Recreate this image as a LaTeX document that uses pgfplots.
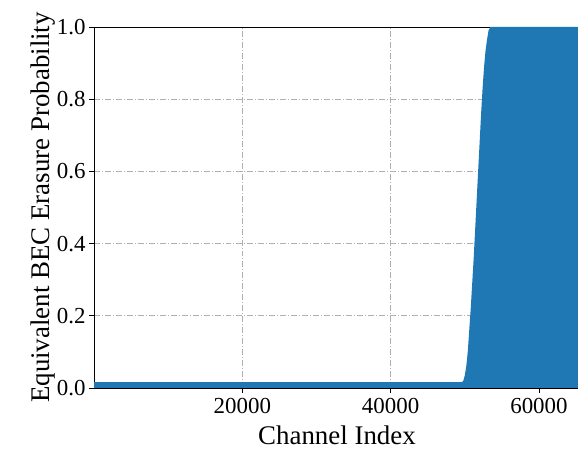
\documentclass[border=0pt]{standalone}
\usepackage{fontspec}
\setmainfont{Liberation Serif}
\usepackage{pgfplots}
\pgfplotsset{compat=1.18}
\definecolor{mplblue}{HTML}{1F77B4}
\definecolor{gridgray}{HTML}{B0B0B0}
\begin{document}
\begin{tikzpicture}
\useasboundingbox (-94bp,-61bp) rectangle (484bp,388bp);
\begin{axis}[
  at={(0,0)}, anchor=south west,
  scale only axis,
  width=486bp, height=361bp,
  xmin=0, xmax=65536, ymin=0, ymax=1,
  xtick={20000,40000,60000},
  ytick={0,0.2,0.4,0.6,0.8,1.0},
  scaled x ticks=false,
  xticklabel style={/pgf/number format/fixed, /pgf/number format/1000 sep={}, yshift=-2bp},
  yticklabel style={/pgf/number format/fixed, /pgf/number format/fixed zerofill, /pgf/number format/precision=1},
  /pgf/number format/assume math mode=true,
  tick align=outside, tick pos=left,
  major tick length=5bp,
  tick style={black, line width=0.8pt},
  ticklabel style={font=\fontsize{23}{25}\selectfont},
  grid=major,
  major grid style={gridgray, line width=0.8pt, dash pattern=on 6pt off 2pt on 1pt off 2pt},
  axis line style={black, line width=0.8pt},
  xlabel={Channel Index},
  ylabel={Equivalent BEC Erasure Probability},
  label style={font=\fontsize{27}{29}\selectfont},
  xlabel style={yshift=-5bp},
  ylabel style={yshift=-5bp},
  clip=true,
]
\addplot[fill=mplblue, draw=none] coordinates {
(1,0.016) (49600,0.016) (49800,0.02) (50000,0.035) (50200,0.06) (50400,0.1)
(50600,0.16) (50800,0.22) (51000,0.29) (51200,0.36) (51400,0.44) (51600,0.52)
(51800,0.6) (52000,0.68) (52200,0.76) (52400,0.83) (52600,0.89) (52800,0.935)
(53000,0.965) (53200,0.99) (53450,1.0) (65536,1.0)
} \closedcycle;
\addplot[red!80!black, line width=0.8pt] coordinates {(1,0) (65536,0)};
\end{axis}
\end{tikzpicture}
\end{document}
